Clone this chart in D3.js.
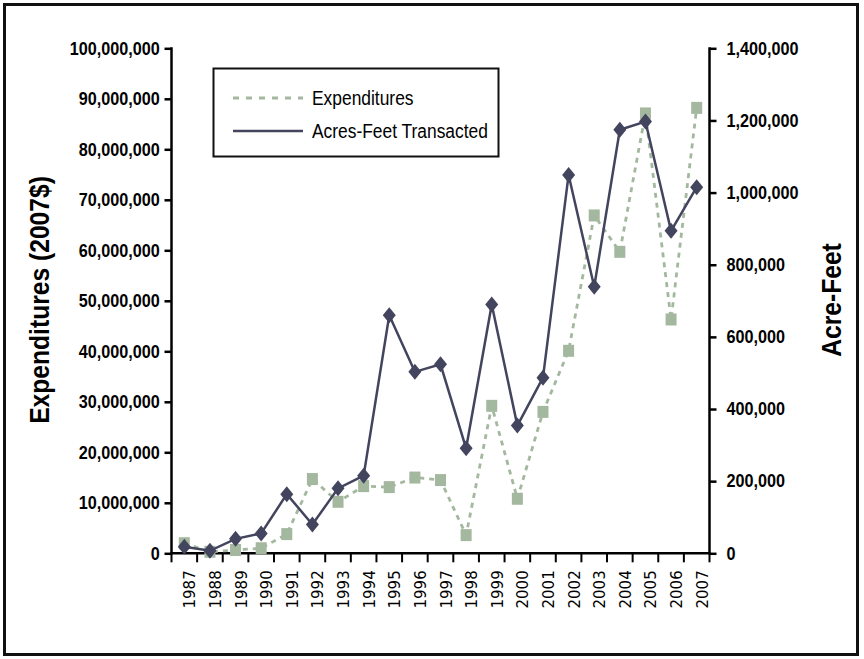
<!DOCTYPE html>
<html><head><meta charset="utf-8">
<script src="https://cdn.jsdelivr.net/npm/d3@7"></script>
<style>
body{margin:0;background:#fff;}
svg{display:block;}
.tick text{font-family:"Liberation Sans",Arial,sans-serif;font-weight:bold;font-size:18px;fill:#000;}
</style></head>
<body>
<svg id="c" width="864" height="659"></svg>
<script>
const years = ["1987","1988","1989","1990","1991","1992","1993","1994","1995","1996","1997","1998","1999","2000","2001","2002","2003","2004","2005","2006","2007"];
const expenditures = [2.0e6,0.3e6,0.65e6,1.0e6,3.8e6,14.7e6,10.2e6,13.3e6,13.1e6,15.0e6,14.5e6,3.6e6,29.2e6,10.8e6,28.0e6,40.1e6,66.9e6,59.7e6,87.1e6,46.3e6,88.2e6];
const acreFeet = [18000,7000,40000,55000,164000,80000,180000,215000,660000,503000,524000,291000,690000,354000,487000,1049000,739000,1174000,1197000,894000,1015000];
const leftTicks = [0,10e6,20e6,30e6,40e6,50e6,60e6,70e6,80e6,90e6,100e6];
const rightTicks = [0,200000,400000,600000,800000,1000000,1200000,1400000];
const seriesNames = ["Expenditures","Acres-Feet Transacted"];

const svg = d3.select("#c");
const L=171.5, R=709.5, T=48.3, B=553.3;
const expColor="#a3b89e", afColor="#43445e";

// frame
svg.append("rect").attr("x",4.5).attr("y",4.5).attr("width",853).attr("height",650)
  .attr("fill","none").attr("stroke","#111").attr("stroke-width",3);

const x = d3.scaleBand().domain(years).range([L,R]);
const yL = d3.scaleLinear().domain([0,100e6]).range([B,T]);
const yR = d3.scaleLinear().domain([0,1400000]).range([B,T]);
const fmt = d3.format(",");

// left axis
const gl = svg.append("g").attr("transform",`translate(${L},0)`)
  .call(d3.axisLeft(yL).tickValues(leftTicks).tickFormat(fmt).tickSize(7).tickSizeOuter(0).tickPadding(4));
gl.selectAll(".tick text").attr("transform","scale(0.9,1)").attr("x",-13);
// right axis
const gr = svg.append("g").attr("transform",`translate(${R},0)`)
  .call(d3.axisRight(yR).tickValues(rightTicks).tickFormat(fmt).tickSize(7).tickSizeOuter(0).tickPadding(10));
gr.selectAll(".tick text").attr("transform","scale(0.9,1)").attr("x",19);
[gl,gr].forEach(g=>{g.selectAll("path,line").attr("stroke","#000").attr("stroke-width",2.5);});
gl.select(".domain").attr("d",`M0,${T-1}V${B+1}`);
gr.select(".domain").attr("d",`M0,${T-1}V${B+1}`);

// x axis
const gx = svg.append("g");
gx.append("line").attr("x1",L-1).attr("x2",R+1).attr("y1",B).attr("y2",B).attr("stroke","#000").attr("stroke-width",2.5);
const bounds = years.map(d=>x(d)).concat([x.range()[1]]);
gx.selectAll("line.tk").data(bounds).join("line").attr("class","tk")
  .attr("x1",d=>d).attr("x2",d=>d).attr("y1",B).attr("y2",B+9).attr("stroke","#000").attr("stroke-width",2);
gx.selectAll("text").data(years).join("text")
  .attr("transform",d=>`translate(${x(d)+x.bandwidth()/2+11},${B+17}) rotate(-90)`)
  .attr("text-anchor","end").attr("font-family","'DejaVu Sans',sans-serif")
  .attr("font-size",15).text(d=>d);

// titles
svg.append("text").attr("transform","translate(49,300) rotate(-90) scale(0.88,1)").attr("text-anchor","middle")
  .attr("font-family","'Liberation Sans',sans-serif").attr("font-weight","bold").attr("font-size",28)
  .text("Expenditures (2007$)");
svg.append("text").attr("transform","translate(841,300) rotate(-90) scale(0.88,1)").attr("text-anchor","middle")
  .attr("font-family","'Liberation Sans',sans-serif").attr("font-weight","bold").attr("font-size",28)
  .text("Acre-Feet");

const cx = d=>x(d)+x.bandwidth()/2;

// expenditures
const lineE = d3.line().x((d,i)=>cx(years[i])).y(d=>yL(d));
svg.append("path").datum(expenditures).attr("d",lineE).attr("fill","none")
  .attr("stroke",expColor).attr("stroke-width",2.8).attr("stroke-dasharray","5,5");
svg.selectAll("rect.sq").data(expenditures).join("rect").attr("class","sq")
  .attr("x",(d,i)=>cx(years[i])-5.5).attr("y",d=>yL(d)-6).attr("width",11).attr("height",12)
  .attr("fill",expColor);

// acre-feet
const lineA = d3.line().x((d,i)=>cx(years[i])).y(d=>yR(d));
svg.append("path").datum(acreFeet).attr("d",lineA).attr("fill","none")
  .attr("stroke",afColor).attr("stroke-width",2.5);
const diamond = "M0,-8L6.5,0L0,8L-6.5,0Z";
svg.selectAll("path.dm").data(acreFeet).join("path").attr("class","dm")
  .attr("transform",(d,i)=>`translate(${cx(years[i])},${yR(d)})`).attr("d",diamond).attr("fill",afColor);

// legend
const lg = svg.append("g");
lg.append("rect").attr("x",213.5).attr("y",68.5).attr("width",285).attr("height",88)
  .attr("fill","#fff").attr("stroke","#111").attr("stroke-width",2);
lg.append("line").attr("x1",233).attr("x2",303).attr("y1",98).attr("y2",98)
  .attr("stroke",expColor).attr("stroke-width",2.8).attr("stroke-dasharray","6,7");
lg.append("line").attr("x1",233).attr("x2",303).attr("y1",131).attr("y2",131)
  .attr("stroke",afColor).attr("stroke-width",2.5);
lg.selectAll("text").data(seriesNames).join("text")
  .attr("transform",(d,i)=>`translate(312,${98+i*33}) scale(0.87,1)`).attr("dy","0.35em")
  .attr("font-family","'Liberation Sans',sans-serif").attr("font-size",20).text(d=>d);
</script>
</body></html>
